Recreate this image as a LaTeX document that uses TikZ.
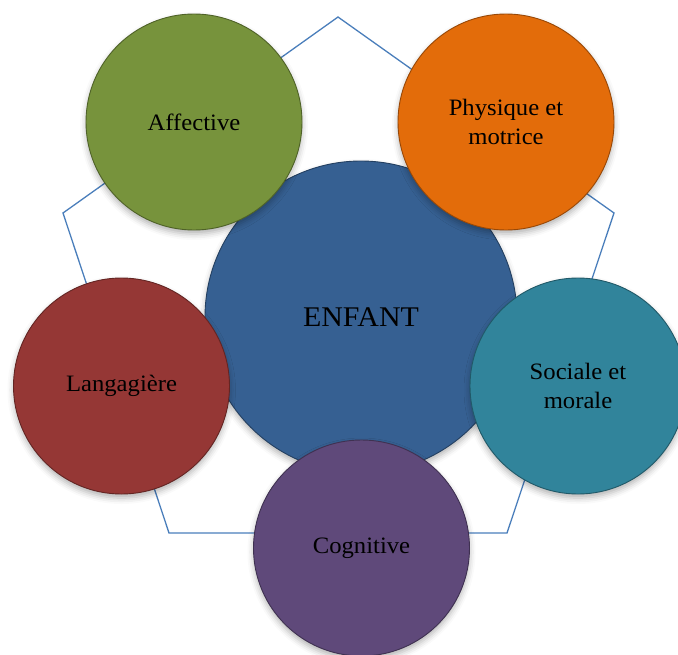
\documentclass[tikz,border=0pt]{standalone}
\usepackage{fontspec}
\setmainfont[FakeStretch=1.05]{Liberation Serif}
\usetikzlibrary{shadows.blur}
\definecolor{cgreen}{HTML}{77933C}
\definecolor{cgreenD}{HTML}{4F6228}
\definecolor{corange}{HTML}{E36C0A}
\definecolor{corangeD}{HTML}{984807}
\definecolor{cblue}{HTML}{366092}
\definecolor{cblueD}{HTML}{244061}
\definecolor{cteal}{HTML}{31849B}
\definecolor{ctealD}{HTML}{215968}
\definecolor{cred}{HTML}{953735}
\definecolor{credD}{HTML}{632523}
\definecolor{cpurple}{HTML}{5F497A}
\definecolor{cpurpleD}{HTML}{3F3151}
\definecolor{cline}{HTML}{4A7EBB}
\begin{document}
\begin{tikzpicture}[x=1pt,y=-1pt,
  bubble/.style={circle, inner sep=0pt, line width=0.9pt, align=center,
    text=black, font=\fontsize{23.5}{29}\selectfont,
    blur shadow={shadow xshift=0pt, shadow yshift=-4pt, shadow blur radius=6pt, shadow opacity=30}},
  small/.style={bubble, minimum size=216pt},
  big/.style={bubble, minimum size=312pt, font=\fontsize{28.5}{32}\selectfont},
  pent/.style={draw=cline, line width=1.3pt, line join=miter}]
\useasboundingbox (0,0) rectangle (678,654);
\coordinate (p1) at (338,17);
\coordinate (p2) at (614,213);
\coordinate (p3) at (507,533);
\coordinate (p4) at (169,533);
\coordinate (p5) at (63,213);
\draw[pent] (p1) -- (p2) -- (p3) -- (p4) -- (p5) -- cycle;
\node[big, fill=cblue, draw=cblueD] (enf) at (361,317) {ENFANT};
\node[small, fill=cgreen, draw=cgreenD] (aff) at (194,122) {Affective};
\node[small, fill=corange, draw=corangeD] (phy) at (506,122) {Physique et\\motrice};
\node[small, fill=cred, draw=credD] (lan) at (121.5,386) {Langagière};
\node[small, fill=cteal, draw=ctealD] (soc) at (578,386) {Sociale et\\morale};
\node[small, fill=cpurple, draw=cpurpleD] (cog) at (361.5,548) {Cognitive};
\end{tikzpicture}
\end{document}
